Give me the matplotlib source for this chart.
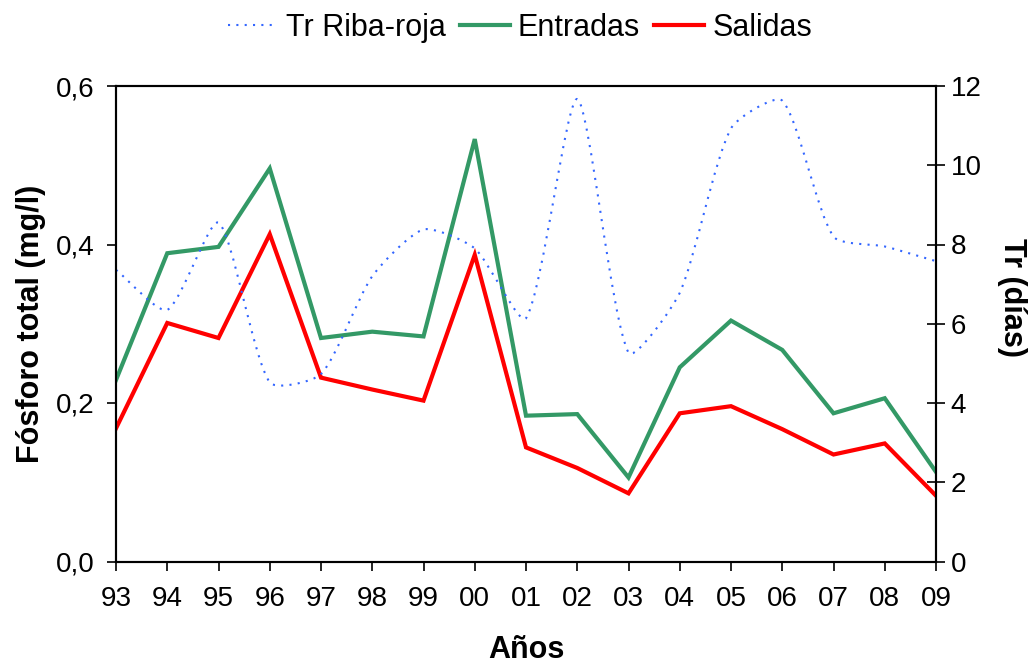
import matplotlib
matplotlib.use("Agg")
import matplotlib.pyplot as plt
from matplotlib.path import Path
from matplotlib.patches import PathPatch
from matplotlib.lines import Line2D
import numpy as np

plt.rcParams['font.family'] = ['Liberation Sans', 'DejaVu Sans']

years = ["93", "94", "95", "96", "97", "98", "99", "00", "01", "02",
         "03", "04", "05", "06", "07", "08", "09"]
entradas = [0.229, 0.389, 0.397, 0.496, 0.282, 0.290, 0.284, 0.533, 0.184,
            0.186, 0.106, 0.245, 0.304, 0.267, 0.187, 0.206, 0.113]
salidas = [0.168, 0.301, 0.282, 0.413, 0.232, 0.217, 0.203, 0.387, 0.144,
           0.118, 0.086, 0.187, 0.196, 0.167, 0.135, 0.149, 0.083]
tr_ribaroja = [7.36, 6.35, 8.55, 4.52, 4.73, 7.2, 8.38, 7.9, 6.14,
               11.67, 5.27, 6.78, 10.93, 11.63, 8.2, 7.95, 7.58]

left_ticks = [0.0, 0.2, 0.4, 0.6]
left_ticklabels = ["0,0", "0,2", "0,4", "0,6"]
right_ticks = [0, 2, 4, 6, 8, 10, 12]

c_green = "#339966"
c_red = "#FF0000"
c_blue = "#3366FF"

fig = plt.figure(figsize=(10.30, 6.63), dpi=100)
ax = fig.add_axes([116/1030, 1-561.5/663, (936-116)/1030, (561.5-86)/663])
ax2 = ax.twinx()

x = np.arange(len(years))

ax.plot(x, entradas, color=c_green, lw=3.0, solid_joinstyle='miter', zorder=3)
ax.plot(x, salidas, color=c_red, lw=3.0, solid_joinstyle='miter', zorder=3)

ax.set_xlim(0, len(years) - 1)
ax.set_ylim(0, 0.6)
ax2.set_ylim(0, 12)

# Smoothed (Excel-like) curve through the Tr points: cubic Bezier segments,
# tangents scaled by segment lengths measured in display space.
fig.canvas.draw()
disp = ax2.transData.transform(np.column_stack([x, tr_ribaroja]).astype(float))
n = len(disp)
verts = [tuple(disp[0])]
codes = [Path.MOVETO]
tension = 1 / 4.5
for i in range(n - 1):
    p0 = disp[i - 1] if i > 0 else disp[i]
    p1 = disp[i]
    p2 = disp[i + 1]
    p3 = disp[i + 2] if i + 2 < n else disp[i + 1]
    d01 = np.hypot(*(p1 - p0))
    d12 = np.hypot(*(p2 - p1))
    d23 = np.hypot(*(p3 - p2))
    f1 = d12 / (d01 + d12) if d01 + d12 > 0 else 0
    f2 = d12 / (d12 + d23) if d12 + d23 > 0 else 0
    c1 = p1 + (p2 - p0) * f1 * tension
    c2 = p2 - (p3 - p1) * f2 * tension
    verts += [tuple(c1), tuple(c2), tuple(p2)]
    codes += [Path.CURVE4] * 3
verts_data = ax2.transData.inverted().transform(np.array(verts))
patch = PathPatch(Path(verts_data, codes), facecolor='none', edgecolor=c_blue,
                  lw=1.5, linestyle=(0, (1.0, 3.0)), zorder=2)
ax2.add_patch(patch)

ax.set_xticks(x)
ax.set_xticklabels(years, fontsize=20)
ax.set_yticks(left_ticks)
ax.set_yticklabels(left_ticklabels, fontsize=20)
ax2.set_yticks(right_ticks)
ax2.set_yticklabels([str(t) for t in right_ticks], fontsize=20)

ax.tick_params(axis='x', direction='out', length=6.5, width=1.2, pad=11)
ax.tick_params(axis='y', direction='out', length=6.5, width=1.2, pad=9)
ax2.tick_params(axis='y', direction='inout', length=13, width=1.2, pad=4)

for a in (ax, ax2):
    for s in a.spines.values():
        s.set_linewidth(1.5)
        s.set_color('black')

ax.set_ylabel("Fósforo total (mg/l)", fontsize=22, fontweight='bold', labelpad=7)
ax2.set_ylabel("Tr (días)", fontsize=22, fontweight='bold', rotation=270,
               va='center', ha='center')
ax2.yaxis.set_label_coords((1012 - 116) / (936 - 116), (561.5 - 298) / 475.5)
ax.set_xlabel("Años", fontsize=22, fontweight='bold')
ax.xaxis.set_label_coords(0.5, -(650 - 561.5) / 475.5)
ax.xaxis.label.set_va('center')

handles = [
    Line2D([], [], color=c_blue, lw=1.5, linestyle=(0, (1.0, 3.0))),
    Line2D([], [], color=c_green, lw=3.0),
    Line2D([], [], color=c_red, lw=3.0),
]
fig.legend(handles, ["Tr Riba-roja", "Entradas", "Salidas"], loc='center',
           bbox_to_anchor=(520/1030, 1-28/663), ncol=3, frameon=False,
           fontsize=22, handlelength=1.64, handletextpad=0.26, columnspacing=0.46)

fig.savefig("out.png", dpi=100)
